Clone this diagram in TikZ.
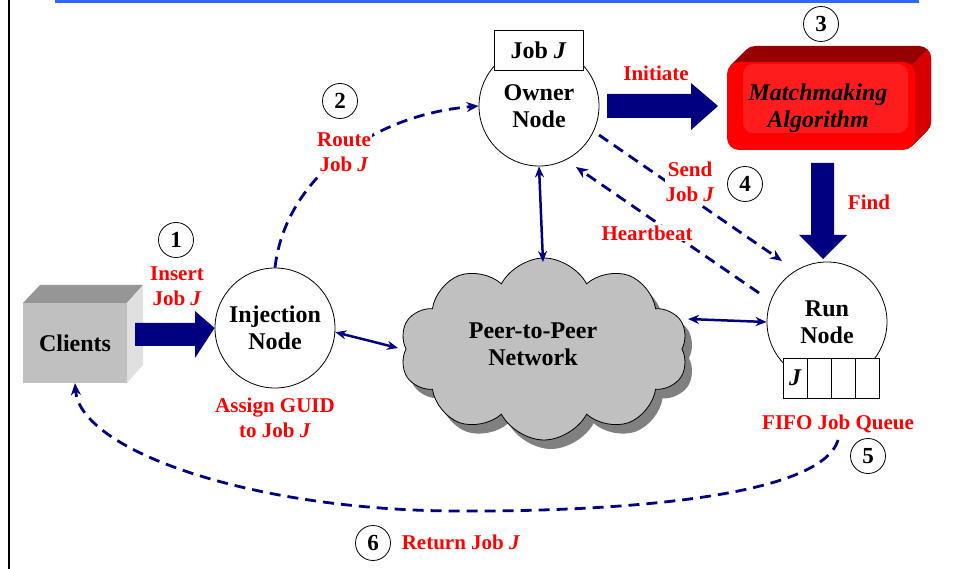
\documentclass[tikz,border=0pt]{standalone}
\usepackage{fontspec}
\setmainfont{Liberation Serif}
\usetikzlibrary{arrows.meta,shapes.symbols,shadows}
\definecolor{navy}{RGB}{0,0,128}
\definecolor{lblred}{RGB}{255,0,0}
\definecolor{topblue}{RGB}{51,102,255}
\definecolor{cloudgray}{RGB}{192,192,192}
\definecolor{shadowgray}{RGB}{128,128,128}
\definecolor{boxfront}{RGB}{192,192,192}
\definecolor{boxtop}{RGB}{150,150,150}
\definecolor{boxside}{RGB}{224,224,224}
\definecolor{mmdark}{RGB}{150,0,0}
\definecolor{mmside}{RGB}{215,0,0}
\definecolor{mmred}{RGB}{255,0,0}
\definecolor{mmlight}{RGB}{255,28,28}
\begin{document}
\begin{tikzpicture}[x=1pt,y=-1pt,
  lbl/.style={text=lblred,font=\fontsize{21}{25.5}\selectfont\bfseries,align=center,fill=white,inner sep=1pt},
  num/.style={circle,draw,line width=0.8pt,minimum size=35pt,inner sep=0pt,font=\fontsize{23}{23}\selectfont\bfseries},
  nodecirc/.style={circle,draw,line width=0.8pt,fill=white,minimum size=120pt,inner sep=0pt,align=center,font=\fontsize{24}{27}\selectfont\bfseries},
  bigtext/.style={align=center,font=\fontsize{24}{27}\selectfont\bfseries,inner sep=0pt},
  qcell/.style={draw,line width=0.8pt,fill=white,minimum width=24pt,minimum height=40pt,inner sep=0pt,font=\fontsize{24}{24}\selectfont\bfseries\itshape},
  conn/.style={navy,line width=2.5pt,{Stealth[length=11pt,width=9pt]}-{Stealth[length=11pt,width=9pt]}},
  dconn/.style={navy,line width=2.8pt,dash pattern=on 11pt off 7pt,-{Stealth[length=12pt,width=10pt]}},
  bigarrow/.style={fill=navy}]
\useasboundingbox (0,0) rectangle (959,569);
\fill[white] (0,0) rectangle (959,569);
% frame lines
\fill[black] (8,0) rectangle (10,569);
\fill[topblue] (55,0) rectangle (919,3);

% Clients box
\fill[boxtop] (23,303) -- (40,285) -- (143,285) -- (127,303) -- cycle;
\fill[boxside] (127,303) -- (143,285) -- (143,365) -- (127,383) -- cycle;
\node[fill=boxfront,minimum width=104pt,minimum height=80pt,inner sep=0pt,font=\fontsize{24}{27}\selectfont\bfseries] (clients) at (75,343) {Clients};

% Matchmaking box
\foreach \i in {16,15,...,1} {\fill[mmdark,rounded corners=12pt] (727+\i,62-\i) rectangle (915+\i,150-\i);}
\begin{scope}
\clip (911,66) -- (935,42) -- (960,42) -- (960,200) -- (911,200) -- cycle;
\foreach \i in {16,15,...,1} {\fill[mmside,rounded corners=12pt] (727+\i,62-\i) rectangle (915+\i,150-\i);}
\end{scope}
\fill[mmred,rounded corners=12pt] (727,62) rectangle (915,150);
\fill[mmlight,rounded corners=10pt] (743,64) rectangle (908,133);
\node[bigtext,font=\fontsize{24}{27}\selectfont\bfseries\itshape] (mm) at (818,108) {Matchmaking\\Algorithm};

% Cloud
\node[cloud,cloud puffs=10,cloud puff arc=125,aspect=1.55,draw,line width=0.8pt,fill=cloudgray,
  minimum width=288pt,minimum height=182pt,
  drop shadow={shadow xshift=7pt,shadow yshift=-9pt,fill=shadowgray,opacity=1}] (p2p) at (544,349) {};
\node[bigtext] (p2ptext) at (533,344) {Peer-to-Peer\\Network};

% Nodes
\node[nodecirc] (inj) at (275,328) {Injection\\Node};
\node[nodecirc] (owner) at (539,106) {Owner\\Node};
\node[draw,line width=0.8pt,fill=white,minimum width=89pt,minimum height=40pt,inner sep=0pt,font=\fontsize{24}{27}\selectfont\bfseries] (jobbox) at (538.5,50) {Job \textit{J}};
\node[nodecirc] (run) at (827,322) {Run\\Node};
\node[qcell] (q1) at (795,378) {J};
\node[qcell] (q2) at (819,378) {};
\node[qcell] (q3) at (843,378) {};
\node[qcell] (q4) at (867,378) {};

% Big block arrows
\fill[bigarrow] (135,323) -- (195,323) -- (195,311) -- (inj.west) -- (195,358) -- (195,346) -- (135,346) -- cycle;
\fill[bigarrow] (607,94) -- (691,94) -- (691,83) -- (718,106) -- (691,130) -- (691,118) -- (607,118) -- cycle;
\fill[bigarrow] (811,163) -- (834,163) -- (834,235) -- (847,235) -- (823,259) -- (799,235) -- (811,235) -- cycle;

% connector end coordinates
\coordinate (cW) at (398,348);
\coordinate (cN) at (543,262);
\coordinate (cE) at (688,319);
\coordinate (sendS) at (599,135);
\coordinate (sendE) at (782,261);
\coordinate (hbS) at (759,293);
\coordinate (hbE) at (576,167);
\coordinate (retS) at (838,440);
\coordinate (retM) at (455,511);

% solid connectors
\draw[conn] (inj.-4) -- (cW);
\draw[conn] (owner.south) -- (cN);
\draw[conn] (cE) -- (run.west);

% dashed connectors
\draw[dconn] (inj.north) .. controls (285,180) and (370,115) .. (owner.west);
\draw[dconn] (sendS) -- (sendE);
\draw[dconn] (hbS) -- (hbE);
\draw[dconn] (retS) .. controls (820,500) and (600,512) .. (retM) .. controls (250,510) and (80,450) .. (clients.south);

% labels
\node[num] (n1) at (176,240) {1};
\node[lbl] (lInsert) at (177,286) {Insert\\Job \textit{J}};
\node[lbl] (lAssign) at (275,418) {Assign GUID\\to Job \textit{J}};
\node[num] (n2) at (340,101) {2};
\node[lbl] (lRoute) at (344,152) {Route\\Job \textit{J}};
\node[lbl] (lInit) at (656,73) {Initiate};
\node[num] (n3) at (821,24) {3};
\node[lbl] (lSend) at (690,182) {Send\\Job \textit{J}};
\node[num] (n4) at (745,184) {4};
\node[lbl] (lFind) at (869,202) {Find};
\node[lbl] (lHeart) at (647,233) {Heartbeat};
\node[lbl] (lFifo) at (838,424) {FIFO Job Queue};
\node[num] (n5) at (868,456) {5};
\node[num] (n6) at (373,543) {6};
\node[lbl] (lRet) at (461,542) {Return Job \textit{J}};
\end{tikzpicture}
\end{document}
